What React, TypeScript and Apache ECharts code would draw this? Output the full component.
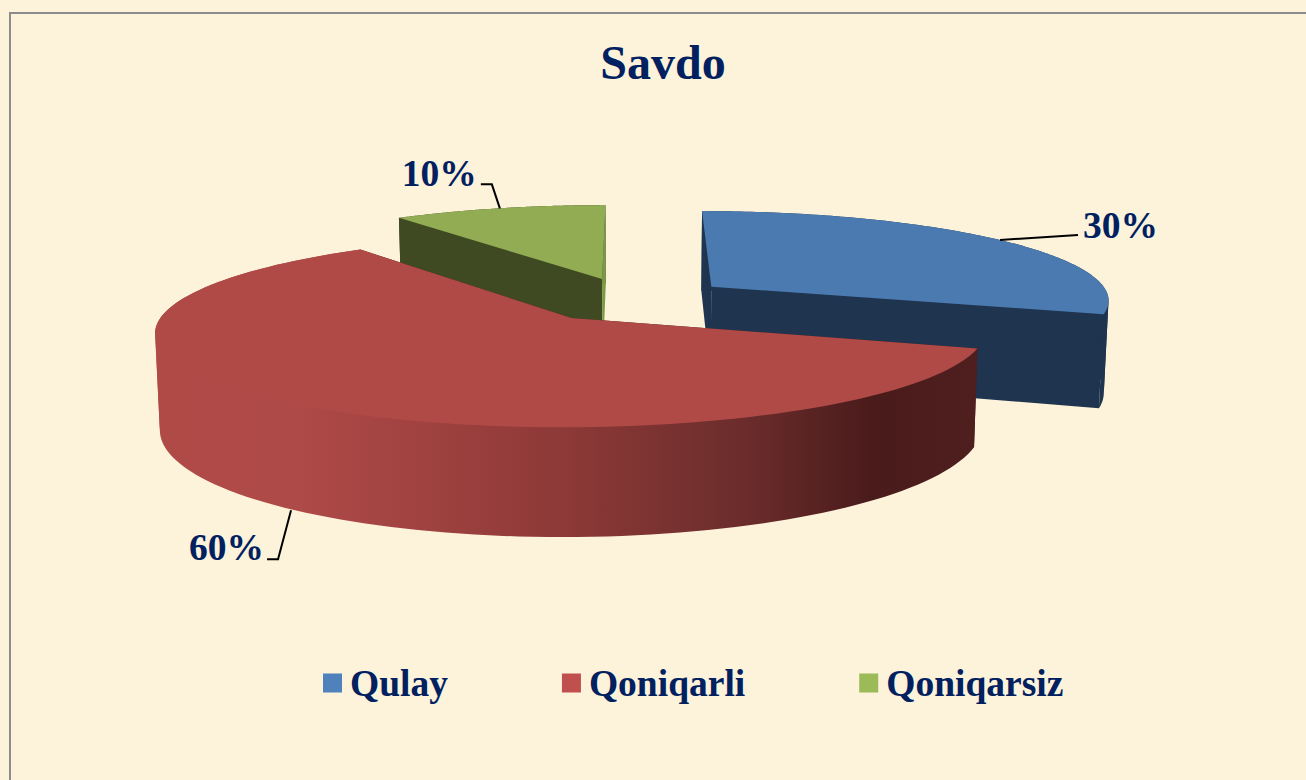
import React, { useEffect, useRef } from "react";
import * as echarts from "echarts";

const categories = ["Qulay", "Qoniqarli", "Qoniqarsiz"];
const values = [30, 60, 10];
const titleText = "Savdo";

const legendColors = ["#4F81BD", "#C0504D", "#9BBB59"];
const topColors = ["#4A7AB0", "#AF4A47", "#91AC52"];
const sideColors = ["#1F344F", "#4A1B1B", "#3F4A23"];
const endWallColors = ["#1F344F", "#4A1B1B", "#7C9A46"];
const TEXT = "#002060";
const FONT = '"Liberation Serif", "Times New Roman", serif';

// projection of the tilted disc
const CX = 632, CY = 299.5, F = 400, G = 89, K = 0.135, H = 92, SHRINK = 0.99, EXPLODE = 0.25;

const project = (X: number, Y: number, down: boolean): [number, number] => {
  const w = 1 + K * Y;
  const s = down ? SHRINK : 1;
  return [CX + (F * s * X) / w, CY - (G * Y) / w + (down ? H / w : 0)];
};

// leader-line offsets and label placement per slice, relative to the rim anchor
const leaderOffsets: number[][][] = [
  [[0, 0], [78, -5]],
  [[-4, 0], [-17, 49], [-28, 49]],
  [[1, 0], [-7, -24], [-18, -24]],
];
const labelOffsets = [[83, -15], [-31, 37], [-22, -35]];
const labelAligns = ["left", "right", "right"];

const total = values.reduce((a, b) => a + b, 0);
const sliceAngles = values.map((v, i) => {
  const before = values.slice(0, i).reduce((a, b) => a + b, 0);
  return [(before / total) * Math.PI * 2, ((before + v) / total) * Math.PI * 2];
});

const redRim = new echarts.graphic.LinearGradient(
  160, 0, 978, 0,
  [
    { offset: 0, color: "#AF4A47" },
    { offset: 0.17, color: "#AE4A47" },
    { offset: 0.3, color: "#A24341" },
    { offset: 0.5, color: "#8C3937" },
    { offset: 0.72, color: "#6A2C2B" },
    { offset: 0.87, color: "#4A1B1B" },
    { offset: 1, color: "#4F1F1F" },
  ],
  true
);

const renderSlice = (i: number) => () => {
  const [a0, a1] = sliceAngles[i];
  const mid = (a0 + a1) / 2;
  const ox = EXPLODE * Math.sin(mid);
  const oy = EXPLODE * Math.cos(mid);
  const rimPt = (a: number, down: boolean) => project(ox + Math.sin(a), oy + Math.cos(a), down);
  const steps = 120;
  const angles: number[] = [];
  for (let s = 0; s <= steps; s++) angles.push(a0 + ((a1 - a0) * s) / steps);
  const apexTop = project(ox, oy, false);
  const apexDown = project(ox, oy, true);
  const topArc = angles.map((a) => rimPt(a, false));
  const downArc = angles.map((a) => rimPt(a, true));
  const side = sideColors[i];

  const poly = (points: number[][], fill: any) => ({ type: "polygon", shape: { points }, style: { fill, stroke: "none" } });
  const children: any[] = [];
  children.push(poly([apexTop, topArc[0], downArc[0], apexDown], side));

  // split the rim where it turns round at its left and right extremes, so no piece overlaps itself
  const xs = topArc.map((p) => p[0]);
  const iMin = xs.indexOf(Math.min(...xs));
  const iMax = xs.indexOf(Math.max(...xs));
  const cuts = Array.from(new Set([0, iMin, iMax, steps])).sort((a, b) => a - b);
  for (let c = 0; c < cuts.length - 1; c++) {
    const front = Math.cos(angles[Math.round((cuts[c] + cuts[c + 1]) / 2)]) < 0;
    // a front piece reaches a little under the top face, so no seam shows along their shared edge
    const top = topArc.slice(cuts[c], cuts[c + 1] + 1).map((p) => [p[0], front ? p[1] - 2 : p[1]]);
    const down = downArc.slice(cuts[c], cuts[c + 1] + 1).reverse();
    children.push(poly([...top, ...down], i === 1 ? redRim : side));
  }
  children.push(poly([apexTop, topArc[steps], downArc[steps], apexDown], endWallColors[i]));
  children.push(poly([apexTop, ...topArc], topColors[i]));

  const anchor = rimPt(mid, i === 1);
  children.push({
    type: "polyline",
    shape: { points: leaderOffsets[i].map((o) => [anchor[0] + o[0], anchor[1] + o[1]]) },
    style: { stroke: "#000000", lineWidth: 2, fill: "none" },
  });
  children.push({
    type: "text",
    style: {
      text: `${Math.round((values[i] / total) * 100)}%`,
      x: anchor[0] + labelOffsets[i][0],
      y: anchor[1] + labelOffsets[i][1],
      fill: TEXT,
      fontFamily: FONT,
      fontWeight: "bold",
      fontSize: 37.5,
      textAlign: labelAligns[i],
      textVerticalAlign: "middle",
    },
  });
  return { type: "group", children };
};

export default function App() {
  const ref = useRef<HTMLDivElement>(null);
  useEffect(() => {
    const chart = echarts.init(ref.current!, undefined, { renderer: "svg" });
    chart.setOption({
      animation: false,
      backgroundColor: "#FDF2DA",
      title: {
        text: titleText,
        left: 658,
        top: 33,
        textAlign: "center",
        textStyle: { color: TEXT, fontFamily: FONT, fontWeight: "bold", fontSize: 48 },
      },
      legend: {
        left: 323,
        top: 664,
        padding: 0,
        icon: "rect",
        itemWidth: 19,
        itemHeight: 19,
        itemGap: 114,
        selectedMode: false,
        textStyle: { color: TEXT, fontFamily: FONT, fontWeight: "bold", fontSize: 37.5, padding: [2, 0, 0, 3] },
        data: categories.map((name, i) => ({ name, itemStyle: { color: legendColors[i] } })),
      },
      graphic: [
        {
          type: "polyline",
          silent: true,
          z: 0,
          shape: { points: [[1306, 13], [10, 13], [10, 780]] },
          style: { stroke: "#8C8C8C", lineWidth: 2, fill: "none" },
        },
      ],
      series: categories.map((name, i) => ({
        type: "custom",
        name,
        coordinateSystem: "none",
        silent: true,
        z: [3, 4, 2][i],
        itemStyle: { color: legendColors[i] },
        data: [values[i]],
        renderItem: renderSlice(i),
      })),
    });
    return () => chart.dispose();
  }, []);
  return <div ref={ref} style={{ position: "fixed", left: 0, top: 0, width: 1306, height: 780 }} />;
}
